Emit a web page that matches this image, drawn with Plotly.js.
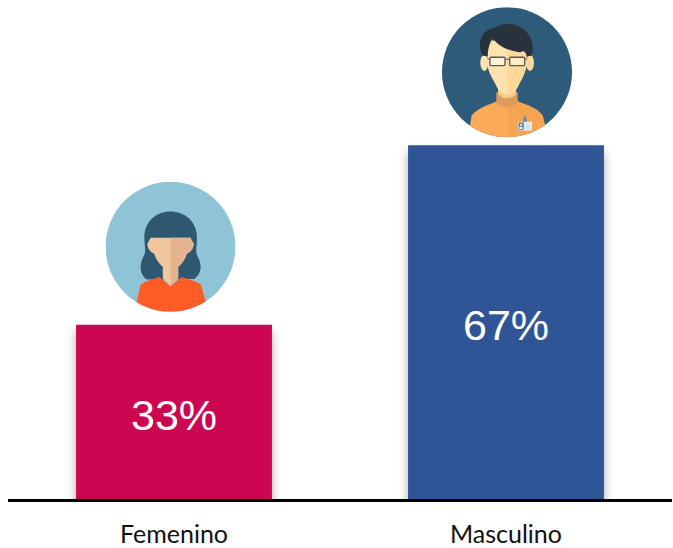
<!DOCTYPE html>
<html>
<head>
<meta charset="utf-8">
<script src="https://cdn.plot.ly/plotly-3.0.1.min.js"></script>
<style>html,body{margin:0;padding:0;background:#fff;overflow:hidden}</style>
</head>
<body>
<div id="chart" style="width:673px;height:548px"></div>
<script>
var categories = ['Femenino', 'Masculino'];
var percentages = [33, 67];
var barColors = ['#CC0650', '#2F5597'];

var womanSvg = '<svg xmlns="http://www.w3.org/2000/svg" width="388" height="388" viewBox="47 38 388 388">' +
 '<defs><clipPath id="c"><circle cx="241" cy="232" r="194"/></clipPath><clipPath id="r"><rect x="241" y="0" width="300" height="500"/></clipPath>' +
 '<path id="f" d="M182 205 L300 205 L310 222 C310 238 300 248 290 252 C284 272 272 285 264 292 L264 325 L241 350 L218 325 L218 292 C210 285 198 272 192 252 C182 248 172 238 172 222Z"/></defs>' +
 '<circle cx="241" cy="232" r="194" fill="#8FC4D6"/>' +
 '<g clip-path="url(#c)">' +
 '<path d="M163 205 C163 155 200 127 241 127 C282 127 320 155 320 205 C320 232 314 245 322 262 C336 285 334 312 312 328 L170 330 C148 314 148 285 160 262 C170 245 163 230 163 205Z" fill="#2D5870"/>' +
 '<use href="#f" fill="#F0C8A0"/>' +
 '<g clip-path="url(#r)"><use href="#f" fill="#E3B48F"/></g>' +
 '<path d="M140 396 L152 345 C165 335 190 328 208 322 L241 350 L274 322 C292 328 320 335 332 345 L346 396 L346 430 L136 430Z" fill="#FF5C26"/>' +
 '</g></svg>';

var manSvg = '<svg xmlns="http://www.w3.org/2000/svg" width="390" height="390" viewBox="36 20 390 390">' +
 '<defs><clipPath id="c"><circle cx="231" cy="215" r="195"/></clipPath><clipPath id="r"><rect x="232" y="0" width="300" height="500"/></clipPath>' +
 '<path id="f" d="M172 120 L290 120 L290 190 C288 215 276 232 264 258 C256 274 244 282 232 282 C220 282 208 274 200 258 C188 232 174 215 172 190Z"/></defs>' +
 '<circle cx="231" cy="215" r="195" fill="#2E5B7A"/>' +
 '<g clip-path="url(#c)">' +
 '<path d="M120 375 L125 345 C145 320 180 312 200 302 L262 302 C285 312 320 320 338 345 L345 375 L345 415 L115 415Z" fill="#FBAA57"/>' +
 '<path d="M232 302 L262 302 C285 312 320 320 338 345 L345 375 L345 415 L232 415Z" fill="#F5A452"/>' +
 '<path d="M199 275 L263 275 L263 305 C250 325 212 325 199 305Z" fill="#E09A5A"/>' +
 '<path d="M204 255 L258 255 L258 280 C245 297 217 297 204 280Z" fill="#F3CE8E"/>' +
 '<ellipse cx="163" cy="187" rx="12" ry="24" fill="#FFE2AE"/>' +
 '<ellipse cx="300" cy="187" rx="12" ry="24" fill="#FDD898"/>' +
 '<use href="#f" fill="#FFE2AE"/>' +
 '<g clip-path="url(#r)"><use href="#f" fill="#FDD898"/></g>' +
 '<path d="M150 130 C152 100 170 85 195 82 C215 65 265 65 290 95 C308 115 312 140 305 165 L290 168 C288 155 282 148 272 155 C250 155 205 140 188 112 C180 125 173 145 173 168 L158 165 C152 155 149 145 150 130Z" fill="#27323C"/>' +
 '<rect x="180" y="170" width="45" height="25" rx="3" fill="#FFF1D6" stroke="#5A5A52" stroke-width="4"/>' +
 '<rect x="239" y="170" width="45" height="25" rx="3" fill="#FFEBC8" stroke="#5A5A52" stroke-width="4"/>' +
 '<path d="M225 176 L239 176 M172 175 L180 175 M284 175 L292 175" stroke="#5A5A52" stroke-width="3"/>' +
 '<path d="M281 348 L288 348 L290 364 L279 364Z" fill="#5E8FB5"/>' +
 '<rect x="264" y="364" width="42" height="26" fill="#EAF0F2"/>' +
 '<rect x="266" y="366" width="15" height="22" fill="#3F6E8E"/>' +
 '<circle cx="273" cy="373" r="4" fill="#F3D9B0"/>' +
 '<rect x="268" y="379" width="10" height="7" fill="#E9EEF0"/>' +
 '<path d="M285 371 L303 371 M285 377 L303 377 M285 383 L303 383" stroke="#B8C8D0" stroke-width="2"/>' +
 '</g></svg>';

function uri(s){ return 'data:image/svg+xml;charset=utf-8,' + encodeURIComponent(s); }

var W = 673, H = 548, L = 8, R = 1, T = 0, B = 49;
var yMax = 94.5;
var pxPerCat = (W - L - R) / 2;
var pxPerUnit = (H - T - B) / yMax;

function avatar(src, catIndex, dxPx, gapPx, sizePx) {
  return {
    source: uri(src), layer: 'above', xref: 'x', yref: 'y',
    x: catIndex + dxPx / pxPerCat,
    y: percentages[catIndex] + gapPx / pxPerUnit,
    sizex: sizePx / pxPerCat, sizey: sizePx / pxPerUnit,
    xanchor: 'center', yanchor: 'bottom', sizing: 'stretch'
  };
}

var trace = {
  type: 'bar',
  x: categories,
  y: percentages,
  marker: { color: barColors, line: { width: 0 } },
  hoverinfo: 'skip'
};

var layout = {
  width: W, height: H,
  margin: { l: L, r: R, t: T, b: B, pad: 0 },
  paper_bgcolor: '#FFFFFF', plot_bgcolor: '#FFFFFF',
  showlegend: false,
  bargap: 0.41,
  xaxis: {
    type: 'category', range: [-0.5, 1.5], showgrid: false, zeroline: false,
    showline: true, linecolor: '#000000', linewidth: 3,
    ticks: 'outside', ticklen: 11, tickcolor: 'rgba(0,0,0,0)',
    tickfont: { family: 'Lato, Carlito, Calibri, sans-serif', size: 25, color: '#111111' }
  },
  yaxis: { range: [0, yMax], visible: false, fixedrange: true },
  annotations: percentages.map(function (v, i) {
    return {
      x: categories[i], y: v / 2, xref: 'x', yref: 'y', text: v + '%', showarrow: false,
      yshift: -3, font: { family: '"Liberation Sans", Arial, sans-serif', size: 43, color: '#FFFFFF' }
    };
  }),
  images: [
    avatar(womanSvg, 0, -3.5, 13, 130),
    avatar(manSvg, 1, 1, 8, 130)
  ]
};

Plotly.newPlot('chart', [trace], layout, { displayModeBar: false, staticPlot: true }).then(function () {
  document.querySelectorAll('.barlayer .point path').forEach(function (p) {
    p.style.filter = 'drop-shadow(0 7px 5px rgba(0,0,0,0.35))';
  });
});
</script>
</body>
</html>
